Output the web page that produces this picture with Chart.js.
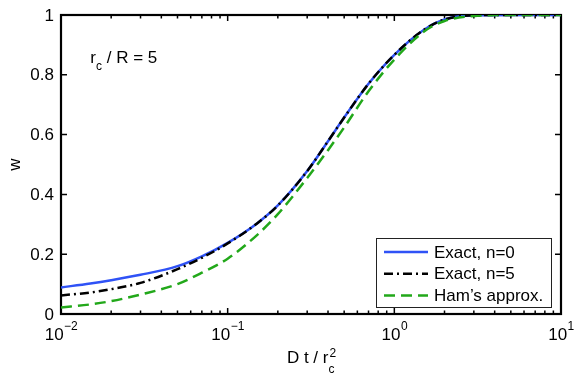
<!DOCTYPE html>
<html>
<head>
<meta charset="utf-8">
<script src="https://cdn.jsdelivr.net/npm/chart.js@4/dist/chart.umd.min.js"></script>
<style>
  html, body { margin: 0; padding: 0; background: #fff; }
  canvas { display: block; }
</style>
</head>
<body>
<canvas id="chart" width="581" height="381"></canvas>
<script>
// values
const dtValues  = [0.01, 0.015, 0.02, 0.03, 0.05, 0.07, 0.1, 0.15, 0.2, 0.3, 0.4, 0.5, 0.7, 1, 1.5, 2, 3, 5, 10];
const exactN0   = [0.089, 0.102, 0.113, 0.131, 0.160, 0.193, 0.238, 0.303, 0.363, 0.478, 0.578, 0.657, 0.770, 0.867, 0.950, 0.985, 0.999, 1.0, 1.0];
const exactN5   = [0.062, 0.072, 0.083, 0.104, 0.150, 0.188, 0.236, 0.303, 0.363, 0.478, 0.578, 0.657, 0.770, 0.867, 0.950, 0.985, 0.999, 1.0, 1.0];
const hamApprox = [0.022, 0.032, 0.043, 0.065, 0.100, 0.138, 0.185, 0.264, 0.334, 0.455, 0.548, 0.624, 0.745, 0.851, 0.944, 0.980, 0.997, 1.0, 1.0];
const xTickExps = [-2, -1, 0, 1];
const yTicks = [0, 0.2, 0.4, 0.6, 0.8, 1];
const yTickLabels = ["0", "0.2", "0.4", "0.6", "0.8", "1"];
const seriesNames = ["Exact, n=0", "Exact, n=5", "Ham\u2019s approx."];

const FONT = '"Liberation Sans", Arial, Helvetica, sans-serif';
const BLUE = '#2f52f6';
const GREEN = '#22a81a';

function pts(arr) {
  return dtValues.map((x, i) => ({ x: x, y: arr[i] }));
}

const styles = [
  { color: BLUE, dash: [] },
  { color: '#000', dash: [9, 4, 2, 4] },
  { color: GREEN, dash: [11, 6] },
];

// box, ticks, labels and legend in the matlab look
const matlabAxes = {
  id: 'matlabAxes',
  beforeDatasetsDraw(chart) {
    const { ctx, chartArea: a, scales: { x, y } } = chart;
    ctx.save();
    ctx.strokeStyle = '#000';
    ctx.lineWidth = 1.5;
    ctx.beginPath();
    for (let e = -2; e < 1; e++) {
      for (let m = 1; m <= 10; m++) {
        const px = x.getPixelForValue(m * Math.pow(10, e));
        const len = (m === 1 || m === 10) ? 6 : 3.5;
        ctx.moveTo(px, a.bottom); ctx.lineTo(px, a.bottom - len);
        ctx.moveTo(px, a.top); ctx.lineTo(px, a.top + len);
      }
    }
    yTicks.forEach(v => {
      const py = y.getPixelForValue(v);
      ctx.moveTo(a.left, py); ctx.lineTo(a.left + 6, py);
      ctx.moveTo(a.right, py); ctx.lineTo(a.right - 6, py);
    });
    ctx.stroke();
    ctx.lineWidth = 2.2;
    ctx.strokeRect(a.left, a.top, a.right - a.left, a.bottom - a.top);

    ctx.fillStyle = '#000';
    // y tick labels
    ctx.font = '17px ' + FONT;
    ctx.textAlign = 'right';
    ctx.textBaseline = 'middle';
    yTicks.forEach((v, i) => {
      ctx.fillText(yTickLabels[i], a.left - 7, y.getPixelForValue(v) + 1);
    });

    // x tick labels 10^n
    ctx.textAlign = 'left';
    ctx.textBaseline = 'alphabetic';
    xTickExps.forEach(e => {
      const px = x.getPixelForValue(Math.pow(10, e));
      const sup = e < 0 ? '\u2212' + (-e) : String(e);
      ctx.font = '17px ' + FONT;
      const w1 = ctx.measureText('10').width;
      ctx.font = '12px ' + FONT;
      const w2 = ctx.measureText(sup).width;
      const x0 = px - (w1 + w2) / 2;
      ctx.font = '17px ' + FONT;
      ctx.fillText('10', x0, a.bottom + 26);
      ctx.font = '12px ' + FONT;
      ctx.fillText(sup, x0 + w1 + 0.5, a.bottom + 16);
    });

    // x title  D t / r_c^2
    ctx.font = '17px ' + FONT;
    const main = 'D t / r';
    const wm = ctx.measureText(main).width;
    ctx.font = '12px ' + FONT;
    const ws = Math.max(ctx.measureText('c').width, ctx.measureText('2').width);
    const tx = (a.left + a.right) / 2 - (wm + ws) / 2;
    ctx.font = '17px ' + FONT;
    ctx.fillText(main, tx, a.bottom + 49);
    ctx.font = '12px ' + FONT;
    ctx.fillText('c', tx + wm, a.bottom + 59);
    ctx.fillText('2', tx + wm + 1, a.bottom + 43);

    // y title
    ctx.save();
    ctx.translate(15, (a.top + a.bottom) / 2);
    ctx.rotate(-Math.PI / 2);
    ctx.font = '17px ' + FONT;
    ctx.textAlign = 'center';
    ctx.textBaseline = 'middle';
    ctx.fillText('w', 0, 0);
    ctx.restore();

    // annotation  r_c / R = 5
    const ax = x.getPixelForValue(0.015);
    const ay = y.getPixelForValue(0.84);
    ctx.font = '17px ' + FONT;
    ctx.fillText('r', ax, ay);
    const wr = ctx.measureText('r').width;
    ctx.font = '12px ' + FONT;
    ctx.fillText('c', ax + wr, ay + 7);
    const wc = ctx.measureText('c').width;
    ctx.font = '17px ' + FONT;
    ctx.fillText(' / R = 5', ax + wr + wc, ay);
    ctx.restore();
  },
  afterDatasetsDraw(chart) {
    const { ctx } = chart;
    ctx.save();
    const bx = 376, by = 238, bw = 175, bh = 69;
    ctx.fillStyle = '#fff';
    ctx.fillRect(bx, by, bw, bh);
    ctx.strokeStyle = '#222';
    ctx.lineWidth = 1;
    ctx.strokeRect(bx + 0.5, by + 0.5, bw, bh);
    ctx.font = '17px ' + FONT;
    ctx.textBaseline = 'middle';
    ctx.textAlign = 'left';
    seriesNames.forEach((name, i) => {
      const ry = by + 14 + i * 21.7;
      ctx.strokeStyle = styles[i].color;
      ctx.lineWidth = 2.5;
      ctx.setLineDash(styles[i].dash);
      ctx.beginPath();
      ctx.moveTo(384, ry);
      ctx.lineTo(428, ry);
      ctx.stroke();
      ctx.setLineDash([]);
      ctx.fillStyle = '#000';
      ctx.fillText(name, 434, ry + 1);
    });
    ctx.restore();
  }
};

new Chart(document.getElementById('chart'), {
  type: 'line',
  data: {
    datasets: [
      { label: seriesNames[0], data: pts(exactN0), borderColor: styles[0].color, borderDash: styles[0].dash, order: 3 },
      { label: seriesNames[1], data: pts(exactN5), borderColor: styles[1].color, borderDash: styles[1].dash, order: 2 },
      { label: seriesNames[2], data: pts(hamApprox), borderColor: styles[2].color, borderDash: styles[2].dash, order: 1 },
    ],
  },
  options: {
    responsive: false,
    animation: false,
    devicePixelRatio: 1,
    layout: { padding: { left: 61, right: 20, top: 15, bottom: 67 } },
    elements: {
      point: { radius: 0 },
      line: { borderWidth: 2.5, cubicInterpolationMode: 'monotone', fill: false },
    },
    plugins: { legend: { display: false }, tooltip: { enabled: false } },
    scales: {
      x: { type: 'logarithmic', min: 0.01, max: 10, display: false },
      y: { type: 'linear', min: 0, max: 1, display: false },
    },
  },
  plugins: [matlabAxes],
});
</script>
</body>
</html>
